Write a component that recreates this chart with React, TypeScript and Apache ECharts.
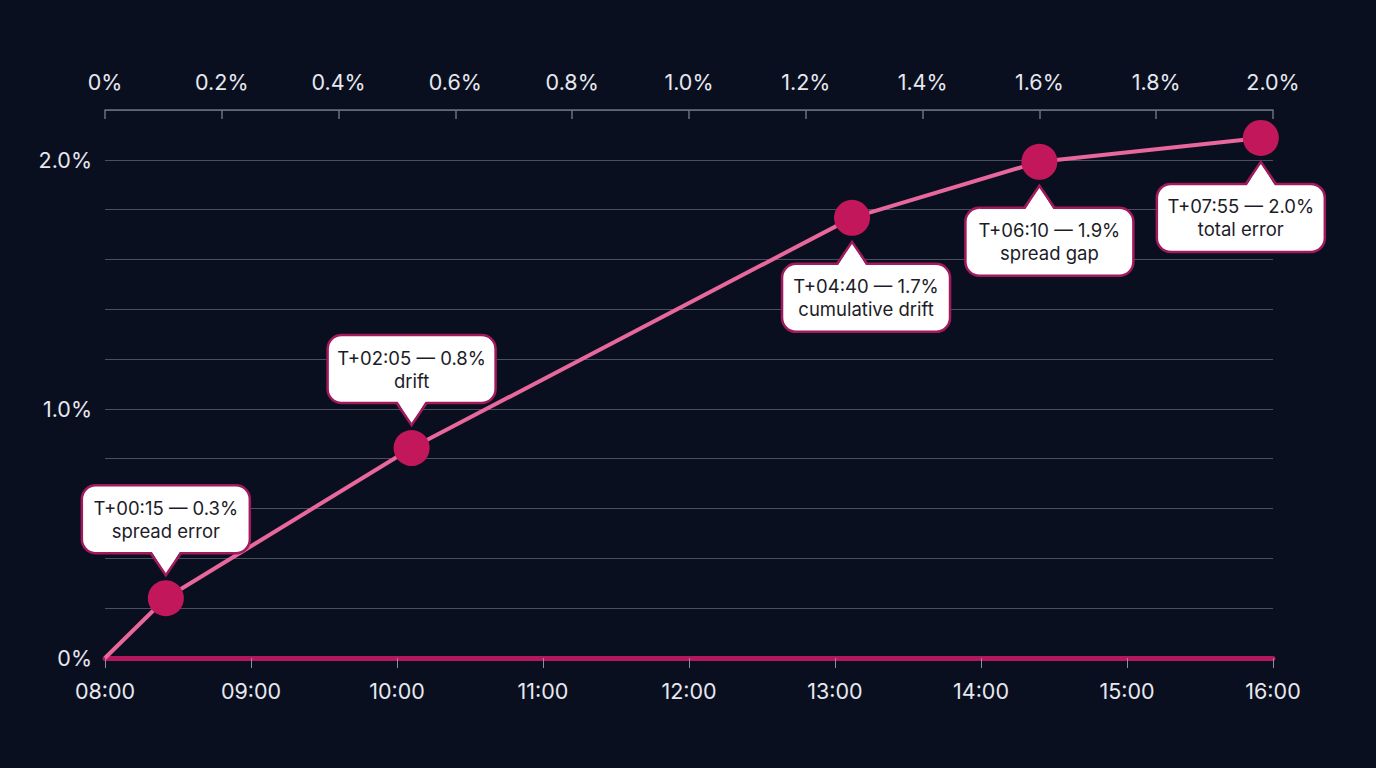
import React, { useEffect, useRef } from "react";
import * as echarts from "echarts";

const lineTimes = ["08:00", "08:25", "10:06", "13:07", "14:24", "15:55"];
const lineValues = [0, 0.24, 0.843, 1.767, 1.992, 2.088];

const calloutTitles = [
  "T+00:15 — 0.3%",
  "T+02:05 — 0.8%",
  "T+04:40 — 1.7%",
  "T+06:10 — 1.9%",
  "T+07:55 — 2.0%",
];
const calloutNotes = ["spread error", "drift", "cumulative drift", "spread gap", "total error"];
// 1 = callout above the point, -1 = below
const calloutSide = [1, 1, -1, -1, -1];
const calloutShift = [0, 0, 14, 10, -20];

const timeTicks = ["08:00", "09:00", "10:00", "11:00", "12:00", "13:00", "14:00", "15:00", "16:00"];
const topTickMax = 2.0;
const yMax = 2.2;

const toMin = (s: string) => {
  const [h, m] = s.split(":").map(Number);
  return h * 60 + m;
};
const fmtMin = (v: number) => {
  const h = Math.floor(v / 60);
  const m = Math.round(v % 60);
  return String(h).padStart(2, "0") + ":" + String(m).padStart(2, "0");
};
const pct = (v: number) => (Math.abs(v) < 1e-9 ? "0%" : v.toFixed(1) + "%");

const BG = "#0a0f1f";
const TEXT = "#e6e8ef";
const GRID = "#4a5062";
const PINK = "#e8679c";
const MAGENTA = "#c2185b";
const BORDER = "#a11a5c";
const FONT = "Inter, 'Noto Sans', sans-serif";

export default function App() {
  const ref = useRef<HTMLDivElement>(null);
  useEffect(() => {
    if (!ref.current) return;
    const chart = echarts.init(ref.current, null, { renderer: "svg" });
    const xs = lineTimes.map(toMin);
    const lineData = xs.map((x, i) => [x, lineValues[i]]);
    const pointData = lineData.slice(1);
    const calloutData = pointData.map((p, i) => [p[0], p[1], calloutSide[i], calloutShift[i]]);
    const W = 168;
    const H = 68;
    const PW = 15;
    const PH = 22;
    chart.setOption({
      animation: false,
      backgroundColor: BG,
      textStyle: { fontFamily: FONT },
      grid: { left: 105, right: 103, top: 110, bottom: 110, containLabel: false },
      xAxis: [
        {
          type: "value",
          min: toMin(timeTicks[0]),
          max: toMin(timeTicks[timeTicks.length - 1]),
          interval: 60,
          position: "bottom",
          axisLine: { show: true, onZero: false, lineStyle: { color: "#b3185f", width: 5 } },
          axisTick: { show: true, length: 10, lineStyle: { color: "#8a8fa0", width: 1 } },
          axisLabel: { color: TEXT, fontSize: 21.5, margin: 22, formatter: (v: number) => fmtMin(v), fontFamily: FONT },
          splitLine: { show: false },
        },
        {
          type: "value",
          min: 0,
          max: topTickMax,
          interval: 0.2,
          position: "top",
          axisLine: { show: true, onZero: false, lineStyle: { color: "#6a7080", width: 1.5 } },
          axisTick: { show: true, inside: true, length: 9, lineStyle: { color: "#6a7080", width: 1.5 } },
          axisLabel: { color: TEXT, fontSize: 21.5, margin: 17, formatter: (v: number) => pct(v), fontFamily: FONT },
          splitLine: { show: false },
        },
      ],
      yAxis: {
        type: "value",
        min: 0,
        max: yMax,
        interval: 0.2,
        axisLine: { show: false },
        axisTick: { show: false },
        axisLabel: {
          color: TEXT,
          fontSize: 21.5,
          margin: 13,
          fontFamily: FONT,
          formatter: (v: number) => (Math.abs(v - Math.round(v)) < 1e-6 ? pct(v) : ""),
        },
        splitLine: { show: true, lineStyle: { color: GRID, width: 1 } },
      },
      series: [
        {
          type: "line",
          data: lineData,
          showSymbol: false,
          symbol: "none",
          lineStyle: { color: PINK, width: 4 },
          z: 3,
        },
        {
          type: "scatter",
          data: pointData,
          symbolSize: 36,
          itemStyle: { color: MAGENTA, opacity: 1 },
          z: 4,
        },
        {
          type: "custom",
          data: calloutData,
          clip: false,
          z: 5,
          renderItem: (params: any, api: any) => {
            const i = params.dataIndex;
            const pt = api.coord([api.value(0), api.value(1)]);
            const side = api.value(2);
            const shift = api.value(3);
            const cx = pt[0];
            const bx = cx + shift;
            let tipY: number, baseY: number, boxY: number;
            if (side > 0) {
              tipY = pt[1] - 23;
              baseY = tipY - PH;
              boxY = baseY - H;
            } else {
              tipY = pt[1] + 24;
              baseY = tipY + PH;
              boxY = baseY;
            }
            const inward = side > 0 ? -3 : 3;
            return {
              type: "group",
              children: [
                {
                  type: "rect",
                  shape: { x: bx - W / 2, y: boxY, width: W, height: H, r: 14 },
                  style: { fill: "#ffffff", stroke: BORDER, lineWidth: 2.5 },
                },
                {
                  type: "polygon",
                  shape: {
                    points: [
                      [cx - PW, baseY + inward],
                      [cx, tipY],
                      [cx + PW, baseY + inward],
                    ],
                  },
                  style: { fill: "#ffffff", stroke: "none" },
                },
                {
                  type: "polyline",
                  shape: {
                    points: [
                      [cx - PW, baseY],
                      [cx, tipY],
                      [cx + PW, baseY],
                    ],
                  },
                  style: { fill: "none", stroke: BORDER, lineWidth: 2.5 },
                },
                {
                  type: "text",
                  style: {
                    x: bx,
                    y: boxY + H / 2,
                    text: calloutTitles[i] + "\n" + calloutNotes[i],
                    align: "center",
                    verticalAlign: "middle",
                    fontSize: 18.5,
                    lineHeight: 23,
                    fontFamily: FONT,
                    fill: "#1c1c28",
                  },
                },
              ],
            };
          },
        },
      ],
    });
    return () => chart.dispose();
  }, []);
  return (
    <div
      ref={ref}
      style={{ position: "fixed", left: 0, top: 0, width: 1376, height: 768, background: BG }}
    />
  );
}
